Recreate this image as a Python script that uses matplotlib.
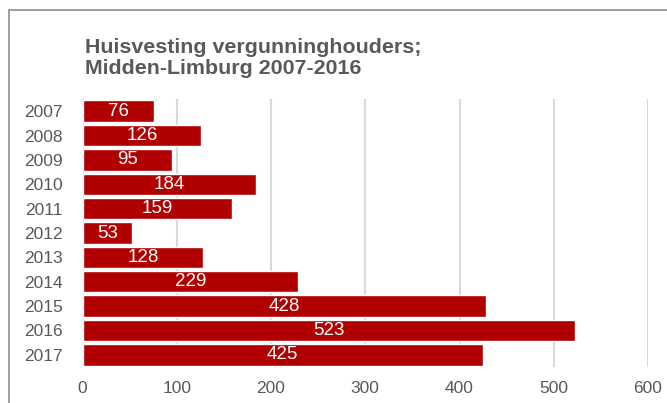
import matplotlib.pyplot as plt
from matplotlib.patches import Rectangle

# data
jaren = ['2007', '2008', '2009', '2010', '2011', '2012', '2013', '2014', '2015', '2016', '2017']
aantallen = [76, 126, 95, 184, 159, 53, 128, 229, 428, 523, 425]
xticks = [0, 100, 200, 300, 400, 500, 600]

plt.rcParams['font.family'] = ['Liberation Sans', 'DejaVu Sans']
grijs = '#595959'
rood = '#B00000'

fig = plt.figure(figsize=(6.67, 4.03), dpi=100)
ax = fig.add_axes([82.5 / 667, 1 - 367 / 403, (648 - 82.5) / 667, 268 / 403])

pos = list(range(len(jaren)))
ax.barh(pos, aantallen, height=0.88, color=rood, edgecolor='white', linewidth=1.0, zorder=3)
for p, v in zip(pos, aantallen):
    ax.text(v / 2, p, str(v), ha='center', va='center', color='white', fontsize=13.5, zorder=4)

ax.set_ylim(len(jaren) - 0.5, -0.5)
ax.set_xlim(0, 600)
ax.set_yticks(pos)
ax.set_yticklabels(jaren)
ax.set_xticks(xticks)
ax.tick_params(axis='both', length=0, labelsize=12.5, colors=grijs)
ax.tick_params(axis='y', pad=14)
ax.tick_params(axis='x', pad=10)
ax.grid(axis='x', color='#d9d9d9', linewidth=1.5, zorder=0)
for s in ax.spines.values():
    s.set_visible(False)

fig.text(85 / 667, 1 - 38 / 403,
         'Huisvesting vergunninghouders;\nMidden-Limburg 2007-2016',
         ha='left', va='top', fontsize=15.4, fontweight='bold', color=grijs, linespacing=1.1)

# frame round the chart (runs off the right and bottom edge)
fig.patches.append(Rectangle((9 / 667, -0.1), 1.2, 1 - 10 / 403 + 0.1, transform=fig.transFigure,
                             fill=False, edgecolor='#8c8c8c', linewidth=1.2))

fig.savefig('out.png', dpi=100)
